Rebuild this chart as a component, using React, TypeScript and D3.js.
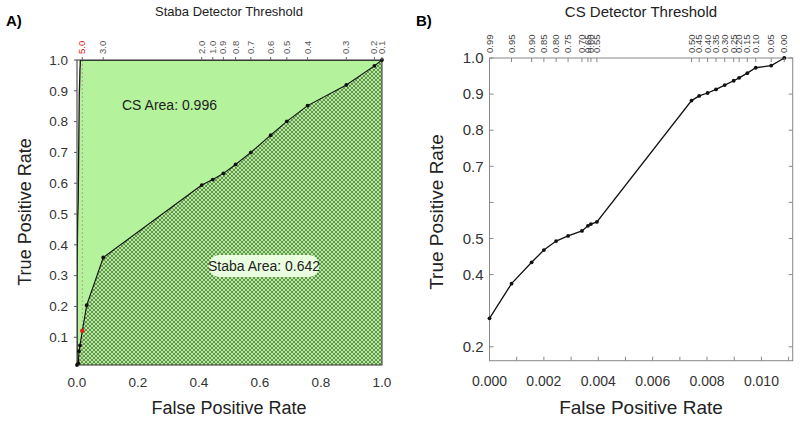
import React from "react";
import * as d3 from "d3";

// CS detector ROC (panel B, also the CS curve in panel A)
const csThresholds = ["0.99", "0.95", "0.90", "0.85", "0.80", "0.75", "0.70", "0.65", "0.60", "0.55",
  "0.50", "0.45", "0.40", "0.35", "0.30", "0.25", "0.20", "0.15", "0.10", "0.05", "0.00"];
const csFpr = [0, 0.00081, 0.00155, 0.002, 0.00245, 0.00289, 0.0034, 0.00362, 0.00373, 0.00395,
  0.00743, 0.00771, 0.00802, 0.00833, 0.00865, 0.00898, 0.00918, 0.00948, 0.00979, 0.01036, 0.01084];
const csTpr = [0.279, 0.375, 0.434, 0.468, 0.493, 0.507, 0.521, 0.535, 0.54, 0.546,
  0.882, 0.895, 0.903, 0.913, 0.925, 0.937, 0.945, 0.958, 0.973, 0.979, 1.0];

// Staba detector ROC (panel A)
const stabaThresholds = ["", "", "", "", "5.0", "", "3.0", "2.0", "1.0", "0.9", "0.8", "0.7", "0.6", "0.5", "0.4", "0.3", "0.2", "0.1"];
const stabaFpr = [0, 0.0043, 0.0066, 0.0098, 0.0174, 0.0318, 0.086, 0.409, 0.445, 0.48, 0.52, 0.57, 0.635, 0.688, 0.756, 0.883, 0.975, 1.0];
const stabaTpr = [0.01, 0.016, 0.055, 0.074, 0.121, 0.204, 0.359, 0.594, 0.612, 0.632, 0.661, 0.7, 0.756, 0.801, 0.852, 0.919, 0.981, 1.0];

const leftXTicks = [0, 0.2, 0.4, 0.6, 0.8, 1.0];
const leftYTicks = [0.1, 0.2, 0.3, 0.4, 0.5, 0.6, 0.7, 0.8, 0.9, 1.0];
const rightXTicks = [0, 0.001, 0.002, 0.003, 0.004, 0.005, 0.006, 0.007, 0.008, 0.009, 0.010, 0.011];
const rightYTicks = [0.2, 0.4, 0.5, 0.6, 0.7, 0.8, 0.9, 1.0];
const rightYLabelled = [0.2, 0.4, 0.5, 0.7, 0.8, 0.9, 1.0];

const FONT = "Liberation Sans, Arial, Helvetica, sans-serif";

const App = () => {
  // panel A
  const xA = d3.scaleLinear().domain([0, 1]).range([77, 382]);
  const yA = d3.scaleLinear().domain([0.01, 1]).range([365, 60]);
  // panel B
  const xB = d3.scaleLinear().domain([0, 0.01115]).range([489.5, 792.7]);
  const yB = d3.scaleLinear().domain([0.1615, 1]).range([360.7, 58]);

  const stabaPts = stabaFpr.map((f, i) => [f, stabaTpr[i]] as [number, number]);
  const csLeftPts: [number, number][] = [[0, 0.01], ...csFpr.map((f, i) => [f, csTpr[i]] as [number, number]), [1, 1]];
  const csPts = csFpr.map((f, i) => [f, csTpr[i]] as [number, number]);

  const lineA = d3.line<[number, number]>().x(d => xA(d[0])).y(d => yA(d[1]));
  const areaA = d3.area<[number, number]>().x(d => xA(d[0])).y0(yA(0.01)).y1(d => yA(d[1]));
  const lineB = d3.line<[number, number]>().x(d => xB(d[0])).y(d => yB(d[1]));

  const redIdx = stabaThresholds.indexOf("5.0");

  return (
    <svg width={800} height={421} style={{ position: "absolute", left: 0, top: 0, background: "white" }} fontFamily={FONT}>
      <defs>
        <pattern id="hatch" width={4} height={4} patternUnits="userSpaceOnUse">
          <rect width={4} height={4} fill="#b0ee96" />
          <path d="M0,0 L4,4 M4,0 L0,4" stroke="#1f3318" strokeWidth={0.5} />
        </pattern>
        <clipPath id="clipA">
          <rect x={77} y={60} width={305} height={305} />
        </clipPath>
      </defs>

      {/* ---------- Panel A ---------- */}
      <text x={6} y={26} fontSize={15} fontWeight="bold">A)</text>
      <text x={229} y={16} fontSize={13} textAnchor="middle" fill="#222">Staba Detector Threshold</text>

      <g clipPath="url(#clipA)">
        <path d={areaA(csLeftPts) || ""} fill="#b4f29c" />
        <path d={areaA(stabaPts) || ""} fill="url(#hatch)" />
        <line x1={xA(stabaFpr[redIdx])} x2={xA(stabaFpr[redIdx])} y1={60} y2={365} stroke="#b59a8a" strokeWidth={0.9} strokeDasharray="2,2" />
        <path d={lineA(csLeftPts) || ""} fill="none" stroke="#111" strokeWidth={1.3} />
        <path d={lineA(stabaPts) || ""} fill="none" stroke="#111" strokeWidth={1.1} />
      </g>
      <rect x={77} y={60} width={305} height={305} fill="none" stroke="#333" strokeWidth={1} />
      {stabaPts.map((d, i) => (
        <circle key={i} cx={xA(d[0])} cy={yA(d[1])} r={i === redIdx ? 2.3 : 1.9} fill={i === redIdx ? "#e02020" : "#111"} />
      ))}

      {/* top threshold axis */}
      {stabaFpr.map((f, i) => stabaThresholds[i] ? (
        <g key={i} transform={`translate(${xA(f)},60)`}>
          <line y1={0} y2={-3} stroke="#666" />
          <text transform="translate(3,-6) rotate(-90)" fontSize={9.5} fill={i === redIdx ? "#e02020" : "#555"}>{stabaThresholds[i]}</text>
        </g>
      ) : null)}

      {/* bottom axis */}
      {leftXTicks.map(t => (
        <g key={t} transform={`translate(${xA(t)},365)`}>
          <text y={22} fontSize={13.5} textAnchor="middle" fill="#333">{t.toFixed(1)}</text>
        </g>
      ))}
      {/* left axis */}
      {leftYTicks.map(t => (
        <g key={t} transform={`translate(77,${yA(t)})`}>
          <line x1={0} x2={-3} stroke="#555" />
          <text x={-9} dy="0.35em" fontSize={13.5} textAnchor="end" fill="#333">{t.toFixed(1)}</text>
        </g>
      ))}
      <text x={229} y={414} fontSize={18} textAnchor="middle" fill="#222">False Positive Rate</text>
      <text transform="translate(31,212) rotate(-90)" fontSize={18} textAnchor="middle" fill="#222">True Positive Rate</text>

      <text x={122} y={110} fontSize={14} fill="#222">CS Area: 0.996</text>
      <rect x={209} y={255} width={110} height={22} rx={10} fill="#eaffdf" />
      <text x={264} y={271} fontSize={14} textAnchor="middle" fill="#222">Staba Area: 0.642</text>

      {/* ---------- Panel B ---------- */}
      <text x={416} y={26} fontSize={15} fontWeight="bold">B)</text>
      <text x={641} y={17} fontSize={15} textAnchor="middle" fill="#222">CS Detector Threshold</text>

      <rect x={489.5} y={58} width={303.2} height={302.7} fill="none" stroke="#888" strokeWidth={1} />
      <path d={lineB(csPts) || ""} fill="none" stroke="#111" strokeWidth={1.3} />
      {csPts.map((d, i) => (
        <circle key={i} cx={xB(d[0])} cy={yB(d[1])} r={1.9} fill="#111" />
      ))}

      {/* top threshold axis */}
      {csFpr.map((f, i) => (
        <g key={i} transform={`translate(${xB(f)},58)`}>
          <line y1={0} y2={4} stroke="#888" />
          <text transform="translate(3,-5) rotate(-90)" fontSize={9.5} fill="#444">{csThresholds[i]}</text>
        </g>
      ))}

      {rightXTicks.map((t, i) => (
        <g key={t} transform={`translate(${xB(t)},360.7)`}>
          <line y1={0} y2={-4} stroke="#888" />
          {i % 2 === 0 ? <text y={25} fontSize={14} textAnchor="middle" fill="#333">{t.toFixed(3)}</text> : null}
        </g>
      ))}
      {rightYTicks.map(t => (
        <g key={t} transform={`translate(489.5,${yB(t)})`}>
          <line x1={0} x2={4} stroke="#888" />
          <line x1={303.2} x2={299.2} stroke="#888" />
          {rightYLabelled.includes(t) ? <text x={-6} dy="0.35em" fontSize={15} textAnchor="end" fill="#333">{t.toFixed(1)}</text> : null}
        </g>
      ))}
      <text x={641} y={414} fontSize={19} textAnchor="middle" fill="#222">False Positive Rate</text>
      <text transform="translate(443,212) rotate(-90)" fontSize={19} textAnchor="middle" fill="#222">True Positive Rate</text>
    </svg>
  );
};

export default App;
